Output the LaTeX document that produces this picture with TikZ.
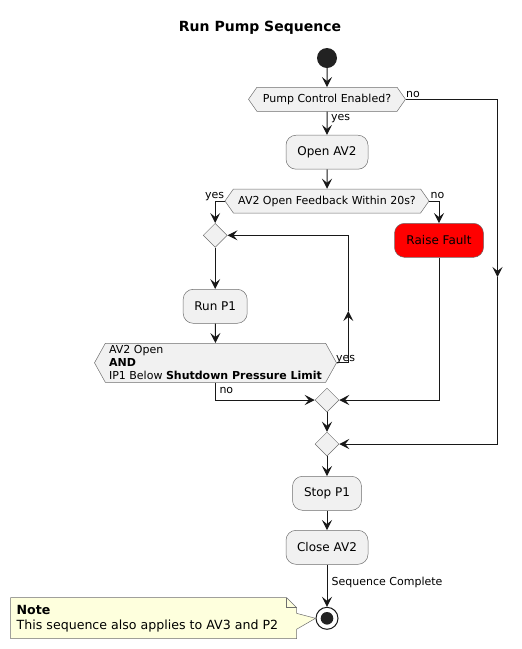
\documentclass[tikz,border=0pt]{standalone}
\usepackage{fontspec}
\setmainfont{DejaVu Sans}
\usetikzlibrary{positioning,calc}
\usetikzlibrary{arrows.meta,shapes.geometric,shapes.symbols}
\definecolor{ActFill}{RGB}{241,241,241}
\definecolor{ActLine}{RGB}{24,24,24}
\definecolor{EdgeGray}{RGB}{110,110,110}
\definecolor{DotFill}{RGB}{34,34,34}
\definecolor{NoteFill}{RGB}{254,255,221}
\definecolor{FaultRed}{RGB}{255,0,0}
\tikzset{
  act/.style={rectangle,rounded corners=10pt,draw=EdgeGray,line width=0.5pt,fill=ActFill,inner sep=0pt,
    minimum height=34pt,font=\fontsize{12}{14}\selectfont},
  cond/.style={signal,signal to=west and east,signal pointer angle=110,draw=EdgeGray,line width=0.5pt,
    fill=ActFill,inner sep=0pt,minimum height=24pt,font=\fontsize{11}{13}\selectfont},
  merge/.style={diamond,draw=EdgeGray,line width=0.5pt,fill=ActFill,inner sep=0pt,minimum width=24pt,minimum height=24pt},
}
\tikzset{flow/.style={draw=ActLine,line width=1pt,-{Stealth[length=10pt,width=10pt,inset=4pt]}},
  lbl/.style={inner sep=0pt,font=\fontsize{11}{13}\selectfont}}

\begin{document}
\begin{tikzpicture}[x=1pt,y=-1pt]
\useasboundingbox (0,0) rectangle (522,649);
\node[anchor=base,inner sep=0pt,font=\bfseries\fontsize{14}{16}\selectfont] (title) at (260,31) {Run Pump Sequence};
\node[circle,fill=DotFill,minimum size=20pt,inner sep=0pt] (start) at (327,58) {};
\node[cond,minimum width=157pt] (c1) at (327,99.3) {Pump Control Enabled?};
\node[act,minimum width=82pt] (a1) at (327,152.2) {Open AV2};
\node[cond,minimum width=204pt] (c2) at (327,201) {AV2 Open Feedback Within 20s?};
\node[merge] (m0) at (215.2,235.3) {};
\node[act,minimum width=89pt,fill=FaultRed] (fault) at (439,240.3) {Raise Fault};
\node[act,minimum width=64pt] (run) at (215.2,306.3) {Run P1};
\node[cond,signal pointer angle=122,minimum width=242pt,minimum height=39pt,align=left] (c3) at (215.5,362.8)
  {AV2 Open\\\textbf{AND}\\IP1 Below \textbf{Shutdown Pressure Limit}};
\node[merge] (m1) at (327,400) {};
\node[merge] (m2) at (327,444) {};
\node[act,minimum width=69pt] (stop1) at (327,493.3) {Stop P1};
\node[act,minimum width=82pt] (close) at (327,547.3) {Close AV2};
\node[circle,draw=ActLine,line width=1pt,fill=white,minimum size=22pt,inner sep=0pt] (done) at (327,618.3) {};
\fill[DotFill] (done.center) circle (6.3pt);
% branch labels
\node[lbl,anchor=base west] (yes1) at (331,120) {yes};
\node[lbl,anchor=base west] (no1) at (406,97) {no};
\node[lbl,anchor=base east] (yes2) at (224.3,198.8) {yes};
\node[lbl,anchor=base west] (no2) at (430.5,198.8) {no};
\node[lbl,anchor=base west] (yes3) at (336,361) {yes};
\node[lbl,anchor=base west] (no3) at (219.3,393) {no};
\node[lbl,anchor=base west] (endlbl) at (331.5,585.5) {Sequence Complete};
% flow
\coordinate (skip) at (497.5,277);
\coordinate (back) at (348.3,311);
\draw[flow] (start) -- (c1);
\draw[flow] (c1) -- (a1);
\draw[flow] (a1) -- (c2);
\draw[flow] (c2.west) -| (m0.north);
\draw[flow] (c2.east) -| (fault.north);
\draw[flow] (m0) -- (run);
\draw[flow] (run) -- (c3);
\draw[flow] (c3.east) -| (back);
\draw[flow] (back) |- (m0.east);
\draw[flow] (c3.south) |- (m1.west);
\draw[flow] (fault.south) |- (m1.east);
\draw[flow] (m1) -- (m2);
\draw[flow] (c1.east) -| (skip);
\draw[flow] (skip) |- (m2.east);
\draw[flow] (m2) -- (stop1);
\draw[flow] (stop1) -- (close);
\draw[flow] (close) -- (done);
% note
\filldraw[draw=EdgeGray,line width=0.5pt,fill=NoteFill] (10.5,597.5) -- (286.5,597.5) -- (296.5,607.5) -- (296.5,613.3)
  -- (done.west) -- (296.5,629.3) -- (296.5,638.5) -- (10.5,638.5) -- cycle;
\draw[draw=EdgeGray,line width=0.5pt] (286.5,597.5) -- (286.5,607.5) -- (296.5,607.5);
\node[anchor=north west,align=left,inner sep=0pt,font=\fontsize{12.6}{15}\selectfont] (note) at (16.5,605.5)
  {\textbf{Note}\\This sequence also applies to AV3 and P2};
\end{tikzpicture}
\end{document}
